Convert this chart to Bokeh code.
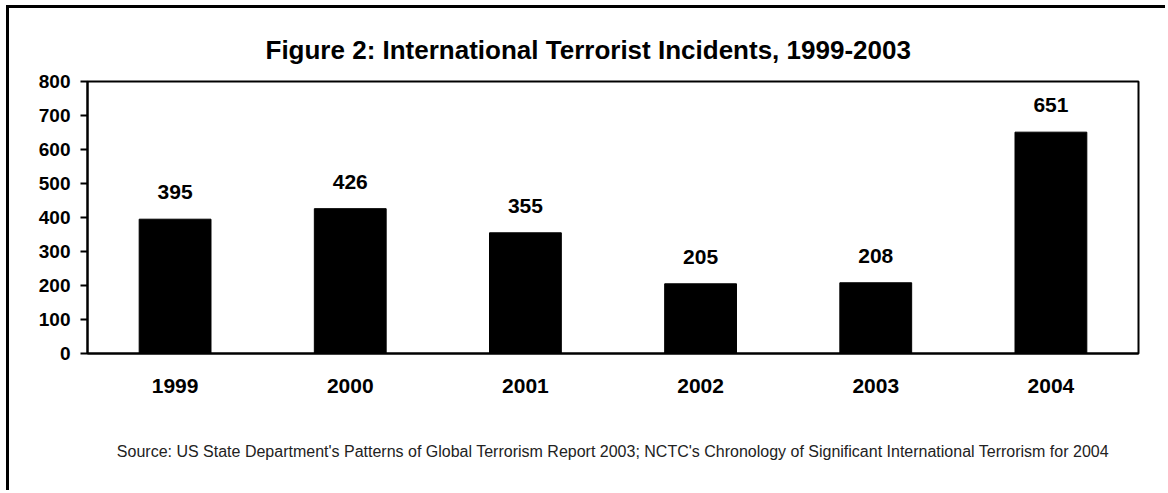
from bokeh.plotting import figure
from bokeh.models import ColumnDataSource, FactorRange, Range1d
from bokeh.core.properties import value
from bokeh.embed import file_html
from bokeh.resources import INLINE

years = ["1999", "2000", "2001", "2002", "2003", "2004"]
incidents = [395, 426, 355, 205, 208, 651]
y_ticks = [0, 100, 200, 300, 400, 500, 600, 700, 800]
title_text = "Figure 2: International Terrorist Incidents, 1999-2003"
source_text = ("Source: US State Department's Patterns of Global Terrorism Report 2003; "
               "NCTC's Chronology of Significant International Terrorism for 2004")

FONT = "Liberation Sans"

src = ColumnDataSource(dict(x=years, top=incidents, lab=[str(v) for v in incidents]))

p = figure(width=1159, height=485, x_range=FactorRange(*years, range_padding=0),
           y_range=Range1d(0, 800), output_backend="svg", toolbar_location=None,
           min_border_left=78, min_border_right=30, min_border_top=73, min_border_bottom=140)
p.styles = {"border-left": "3px solid black", "border-top": "3px solid black",
            "margin-left": "6px", "margin-top": "5px"}
p.background_fill_color = "white"
p.border_fill_color = "white"
p.outline_line_color = "black"
p.outline_line_width = 2
p.grid.visible = False

p.vbar(x="x", top="top", width=0.41, source=src, fill_color="black", line_color="black")
p.text(x="x", y="top", text="lab", source=src, text_align="center", text_baseline="alphabetic",
       y_offset=-27, text_font=value(FONT), text_font_style="bold", text_font_size="21px",
       text_color="black")

p.yaxis.ticker = y_ticks
p.yaxis.axis_line_width = 2
p.yaxis.axis_line_color = "black"
p.yaxis.major_tick_in = 0
p.yaxis.major_tick_out = 7
p.yaxis.major_tick_line_width = 2
p.yaxis.minor_tick_line_color = None
p.yaxis.major_label_standoff = 10
p.yaxis.major_label_text_font = FONT
p.yaxis.major_label_text_font_style = "bold"
p.yaxis.major_label_text_font_size = "19px"
p.yaxis.major_label_text_color = "black"

p.xaxis.axis_line_width = 2
p.xaxis.axis_line_color = "black"
p.xaxis.major_tick_line_color = None
p.xaxis.minor_tick_line_color = None
p.xaxis.major_label_standoff = 19
p.xaxis.major_label_text_font = FONT
p.xaxis.major_label_text_font_style = "bold"
p.xaxis.major_label_text_font_size = "21px"
p.xaxis.major_label_text_color = "black"

p.title.text = title_text
p.title.align = "left"
p.title.offset = 178
p.title.standoff = 34
p.title.text_font = FONT
p.title.text_font_style = "bold"
p.title.text_font_size = "26px"
p.title.text_color = "black"

# source line as the x axis label
xax = p.xaxis[0]
xax.axis_label = source_text
xax.axis_label_standoff = 47
xax.axis_label_text_font = FONT
xax.axis_label_text_font_style = "normal"
xax.axis_label_text_font_size = "16px"
xax.axis_label_text_color = "#222222"
xax.axis_label_align = "center"

open("out.html", "w").write(file_html(p, INLINE))
